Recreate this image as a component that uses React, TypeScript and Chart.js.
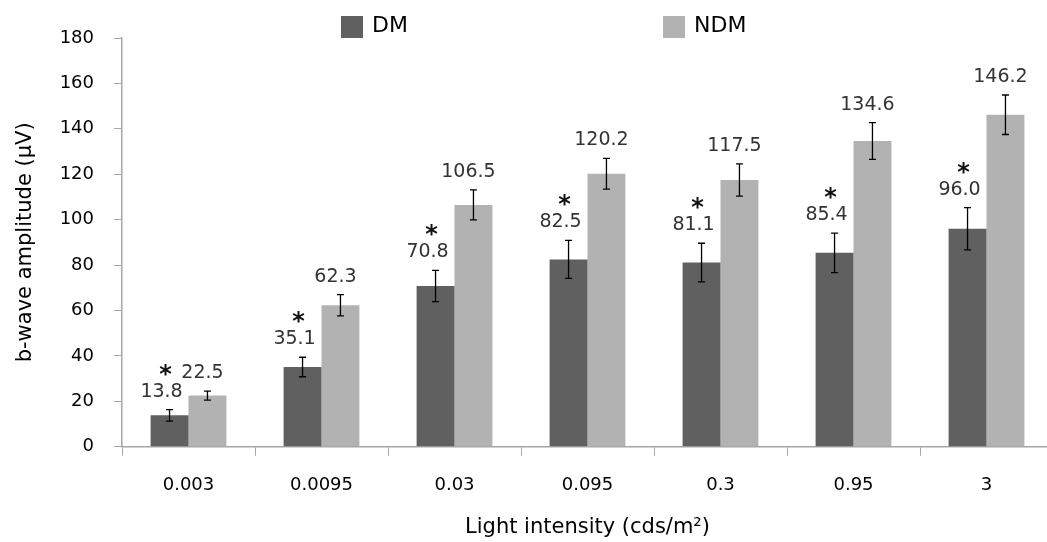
import React, { useEffect, useRef } from 'react';
import { Chart, registerables } from 'chart.js';

Chart.register(...registerables);

const categories = ['0.003', '0.0095', '0.03', '0.095', '0.3', '0.95', '3'];
const seriesNames = ['DM', 'NDM'];
const dmValues = [13.8, 35.1, 70.8, 82.5, 81.1, 85.4, 96.0];
const ndmValues = [22.5, 62.3, 106.5, 120.2, 117.5, 134.6, 146.2];
const dmErrors = [2.5, 4.3, 6.9, 8.4, 8.5, 8.7, 9.3];
const ndmErrors = [2.0, 4.7, 6.6, 6.8, 7.1, 8.1, 8.7];
const dmSignificant = [true, true, true, true, true, true, true];
const yTicks = [0, 20, 40, 60, 80, 100, 120, 140, 160, 180];

const DM_COLOR = '#606060';
const NDM_COLOR = '#b2b2b2';
const AXIS_COLOR = '#a6a6a6';
const FONT = "'DejaVu Sans', 'Liberation Sans', sans-serif";

const overlayPlugin = {
  id: 'overlay',
  afterDatasetsDraw(chart: any) {
    const ctx = chart.ctx;
    const ys = chart.scales.y;
    const series = [
      { vals: dmValues, errs: dmErrors, dx: -8, sig: dmSignificant },
      { vals: ndmValues, errs: ndmErrors, dx: -5, sig: null as boolean[] | null },
    ];
    series.forEach((s, di) => {
      const meta = chart.getDatasetMeta(di);
      meta.data.forEach((bar: any, i: number) => {
        const x = bar.x;
        const top = ys.getPixelForValue(s.vals[i] + s.errs[i]);
        const bot = ys.getPixelForValue(s.vals[i] - s.errs[i]);
        ctx.save();
        ctx.strokeStyle = '#000';
        ctx.lineWidth = 1.3;
        ctx.beginPath();
        ctx.moveTo(x, top);
        ctx.lineTo(x, bot);
        ctx.moveTo(x - 3.5, top);
        ctx.lineTo(x + 3.5, top);
        ctx.moveTo(x - 3.5, bot);
        ctx.lineTo(x + 3.5, bot);
        ctx.stroke();

        const lx = x + s.dx;
        const ly = top - 18;
        ctx.font = `19px ${FONT}`;
        ctx.fillStyle = '#333';
        ctx.textAlign = 'center';
        ctx.textBaseline = 'middle';
        ctx.fillText(s.vals[i].toFixed(1), lx, ly);

        if (s.sig && s.sig[i]) {
          ctx.font = `bold 24px ${FONT}`;
          ctx.fillStyle = '#111';
          ctx.textBaseline = 'alphabetic';
          ctx.fillText('*', lx + 4, ly - 23 + 13);
        }
        ctx.restore();
      });
    });
  },
  afterDraw(chart: any) {
    const ctx = chart.ctx;
    const items = [
      { x: 341, color: DM_COLOR, label: chart.data.datasets[0].label },
      { x: 663, color: NDM_COLOR, label: chart.data.datasets[1].label },
    ];
    ctx.save();
    items.forEach((it) => {
      ctx.fillStyle = it.color;
      ctx.fillRect(it.x, 16, 22, 22);
      ctx.fillStyle = '#000';
      ctx.font = `22px ${FONT}`;
      ctx.textAlign = 'left';
      ctx.textBaseline = 'alphabetic';
      ctx.fillText(it.label, it.x + 31, 31.5);
    });
    ctx.restore();
  },
};

export default function App() {
  const ref = useRef<HTMLCanvasElement | null>(null);

  useEffect(() => {
    if (!ref.current) return;
    const chart = new Chart(ref.current, {
      type: 'bar',
      data: {
        labels: categories,
        datasets: [
          {
            label: seriesNames[0],
            data: dmValues,
            backgroundColor: DM_COLOR,
            categoryPercentage: 0.57,
            barPercentage: 1.0,
          },
          {
            label: seriesNames[1],
            data: ndmValues,
            backgroundColor: NDM_COLOR,
            categoryPercentage: 0.57,
            barPercentage: 1.0,
          },
        ],
      },
      options: {
        responsive: false,
        animation: false,
        devicePixelRatio: 1,
        layout: { padding: { left: 0, right: 7, top: 38, bottom: 0 } },
        plugins: {
          legend: { display: false },
          tooltip: { enabled: false },
        },
        scales: {
          x: {
            grid: {
              offset: true,
              drawOnChartArea: false,
              drawTicks: true,
              tickLength: 9,
              color: AXIS_COLOR,
            },
            border: { color: AXIS_COLOR, width: 1.5 },
            ticks: {
              font: { family: FONT, size: 18 },
              color: '#000',
              padding: 19,
            },
            title: {
              display: true,
              text: 'Light intensity (cds/m²)',
              font: { family: FONT, size: 21 },
              color: '#000',
              padding: { top: 0, bottom: 2 },
            },
            afterFit: (s: any) => {
              s.height = 95.3;
            },
          },
          y: {
            min: 0,
            max: 180,
            afterBuildTicks: (s: any) => {
              s.ticks = yTicks.map((v) => ({ value: v }));
            },
            grid: {
              drawOnChartArea: false,
              drawTicks: true,
              tickLength: 8,
              color: AXIS_COLOR,
            },
            border: { color: AXIS_COLOR, width: 1.5 },
            ticks: {
              font: { family: FONT, size: 18 },
              color: '#000',
              padding: 20,
            },
            title: {
              display: true,
              text: 'b-wave amplitude (μV)',
              font: { family: FONT, size: 21 },
              color: '#000',
              padding: { top: 13, bottom: 0 },
            },
            afterFit: (s: any) => {
              s.width = 122;
            },
          },
        },
      },
      plugins: [overlayPlugin],
    });
    return () => chart.destroy();
  }, []);

  return (
    <div
      style={{
        position: 'fixed',
        left: 0,
        top: 0,
        width: 1047,
        height: 542,
        overflow: 'hidden',
        background: '#fff',
      }}
    >
      <canvas ref={ref} width={1060} height={542} style={{ display: 'block' }} />
    </div>
  );
}
